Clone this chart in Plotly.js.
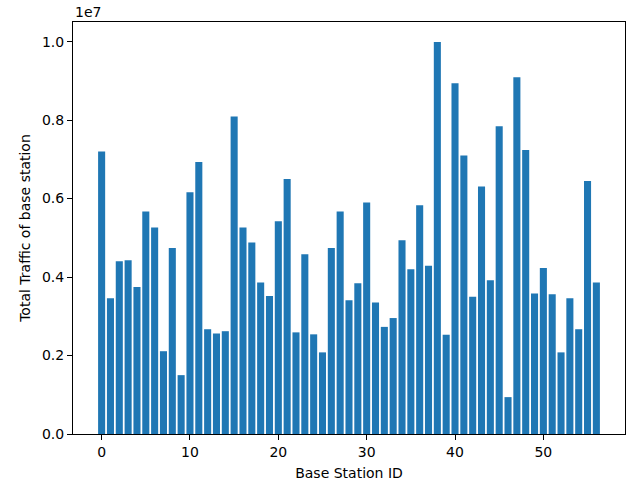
<!DOCTYPE html>
<html>
<head>
<meta charset="utf-8">
<script src="https://cdn.plot.ly/plotly-3.0.1.min.js"></script>
<style>html,body{margin:0;padding:0;background:#fff;}#chart{width:632px;height:484px;}</style>
</head>
<body>
<div id="chart"></div>
<script>
const stationIds = Array.from({length: 57}, (_, i) => i);
const totalTraffic = [
  7.20e6, 3.46e6, 4.40e6, 4.43e6, 3.745e6, 5.67e6, 5.26e6, 2.11e6, 4.74e6, 1.50e6,
  6.16e6, 6.93e6, 2.67e6, 2.56e6, 2.62e6, 8.09e6, 5.26e6, 4.88e6, 3.86e6, 3.52e6,
  5.42e6, 6.50e6, 2.59e6, 4.58e6, 2.54e6, 2.08e6, 4.74e6, 5.67e6, 3.41e6, 3.84e6,
  5.90e6, 3.35e6, 2.73e6, 2.955e6, 4.94e6, 4.20e6, 5.83e6, 4.29e6, 9.99e6, 2.53e6,
  8.94e6, 7.10e6, 3.50e6, 6.31e6, 3.92e6, 7.84e6, 0.94e6, 9.09e6, 7.24e6, 3.58e6,
  4.23e6, 3.56e6, 2.08e6, 3.46e6, 2.67e6, 6.45e6, 3.86e6
];
const yTickVals = [0, 2e6, 4e6, 6e6, 8e6, 1e7];
const yTickText = ['0.0', '0.2', '0.4', '0.6', '0.8', '1.0'];
const xTickVals = [0, 10, 20, 30, 40, 50];

const font = {family: 'DejaVu Sans', size: 14, color: '#000'};
const trace = {
  type: 'bar',
  x: stationIds,
  y: totalTraffic,
  width: 0.8,
  marker: {color: '#1f77b4', line: {width: 0}},
  hoverinfo: 'x+y'
};
const layout = {
  width: 632, height: 484,
  margin: {l: 73, r: 7, t: 22, b: 50},
  paper_bgcolor: '#fff', plot_bgcolor: '#fff',
  showlegend: false,
  font: font,
  xaxis: {
    range: [-3.24, 59.24],
    tickvals: xTickVals,
    ticks: 'outside', ticklen: 5, tickwidth: 1, tickcolor: '#000',
    showline: true, linecolor: '#000', linewidth: 1, mirror: true,
    showgrid: false, zeroline: false,
    tickfont: font,
    title: {text: 'Base Station ID', font: font, standoff: 9}
  },
  yaxis: {
    range: [0, 1.05e7],
    tickvals: yTickVals, ticktext: yTickText,
    ticks: 'outside', ticklen: 5, tickwidth: 1, tickcolor: '#000',
    showline: true, linecolor: '#000', linewidth: 1, mirror: true,
    showgrid: false, zeroline: false,
    tickfont: font,
    title: {text: 'Total Traffic of base station', font: font, standoff: 8}
  },
  annotations: [{
    text: '1e7', xref: 'paper', yref: 'paper', x: 0, y: 1,
    xanchor: 'left', yanchor: 'bottom', showarrow: false, font: font, yshift: 0
  }]
};
Plotly.newPlot('chart', [trace], layout, {displayModeBar: false, staticPlot: true});
</script>
</body>
</html>
